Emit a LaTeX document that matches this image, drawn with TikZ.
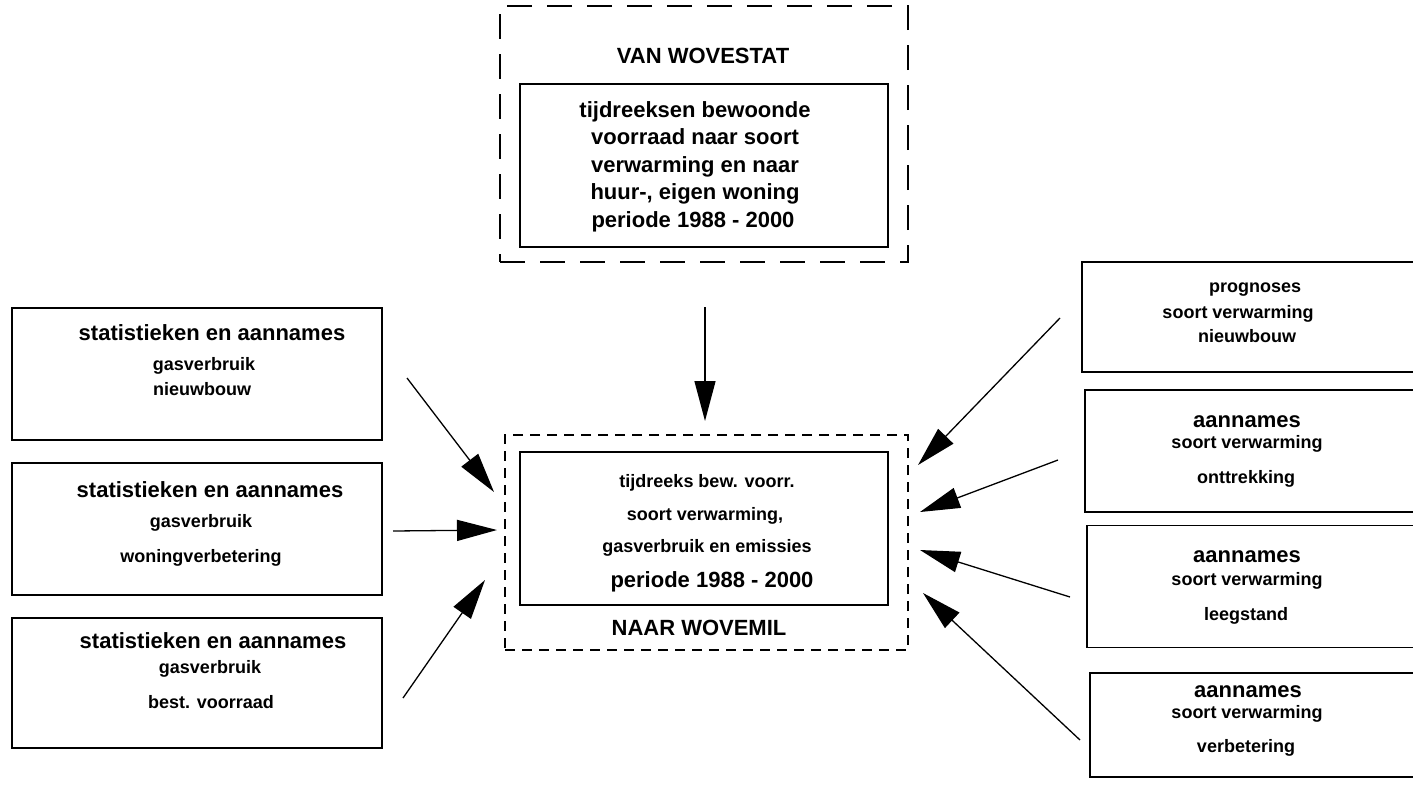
\documentclass[tikz,border=0pt]{standalone}
\usepackage{fontspec}
\setmainfont{Liberation Sans}
\usetikzlibrary{arrows.meta}
\begin{document}
\begin{tikzpicture}[x=1pt,y=-1pt,
  big/.style={font=\fontsize{22}{26}\selectfont\bfseries, anchor=base, inner sep=0pt},
  small/.style={font=\fontsize{18}{22}\selectfont\bfseries, anchor=base, inner sep=0pt},
  frame/.style={draw, line width=1.6pt, inner sep=0pt},
  outerlong/.style={draw, line width=1.5pt, dash pattern=on 25pt off 15pt, inner sep=0pt},
  outershort/.style={draw, line width=1.4pt, dash pattern=on 10pt off 7pt, inner sep=0pt},
  feed/.style={line width=1.3pt, -{Triangle[length=40pt,width=21pt]}}]
\useasboundingbox (0,0) rectangle (1413,796);
\clip (0,0) rectangle (1413,796);
\fill[white] (0,0) rectangle (1413,796);

% source frame on top
\path (500,6) coordinate (vtl) (908,262) coordinate (vbr);
\node[outerlong, fit/.style={}, minimum width=408pt, minimum height=256pt] (van) at (704,134) {};
\node[frame, minimum width=368pt, minimum height=163pt] (vanbox) at (704,165.5) {};
\node[big] (vant) at (703,63) {VAN WOVESTAT};
\node[big] (v1) at (695,117) {tijdreeksen bewoonde};
\node[big] (v2) at (695,144.5) {voorraad naar soort};
\node[big] (v3) at (695,172) {verwarming en naar};
\node[big] (v4) at (695,199.5) {huur-, eigen woning};
\node[big] (v5) at (693,227) {periode 1988 - 2000};

% target frame in the middle
\node[outershort, minimum width=403pt, minimum height=215pt] (naar) at (706.5,542.5) {};
\node[frame, minimum width=368pt, minimum height=153pt] (naarbox) at (704,528.5) {};
\node[small] (n1) at (707,487) {tijdreeks bew. voorr.};
\node[small] (n2) at (705,520) {soort verwarming,};
\node[small] (n3) at (707,552) {gasverbruik en emissies};
\node[big] (n4) at (712,587) {periode 1988 - 2000};
\node[big] (nt) at (699,635) {NAAR WOVEMIL};

% left inputs
\node[frame, minimum width=370pt, minimum height=132pt] (l1) at (197,374) {};
\node[big] (l1a) at (212,340) {statistieken en aannames};
\node[small] (l1b) at (204,370) {gasverbruik};
\node[small] (l1c) at (202,395) {nieuwbouw};

\node[frame, minimum width=370pt, minimum height=132pt] (l2) at (197,529) {};
\node[big] (l2a) at (210,497) {statistieken en aannames};
\node[small] (l2b) at (201,527) {gasverbruik};
\node[small] (l2c) at (201,562) {woningverbetering};

\node[frame, minimum width=370pt, minimum height=130pt] (l3) at (197,683) {};
\node[big] (l3a) at (213,648) {statistieken en aannames};
\node[small] (l3b) at (210,673) {gasverbruik};
\node[small] (l3c) at (211,708) {best. voorraad};

% right inputs (running past the right edge)
\node[frame, minimum width=360pt, minimum height=110pt] (r1) at (1262,317) {};
\node[small] (r1a) at (1255,292) {prognoses};
\node[small] (r1b) at (1238,318) {soort verwarming};
\node[small] (r1c) at (1247,342) {nieuwbouw};

\node[frame, minimum width=360pt, minimum height=122pt] (r2) at (1265,451) {};
\node[big] (r2a) at (1247,427) {aannames};
\node[small] (r2b) at (1247,448) {soort verwarming};
\node[small] (r2c) at (1246,483) {onttrekking};

\node[frame, minimum width=360pt, minimum height=122pt] (r3) at (1267,586.5) {};
\node[big] (r3a) at (1247,562) {aannames};
\node[small] (r3b) at (1247,585) {soort verwarming};
\node[small] (r3c) at (1246,620) {leegstand};

\node[frame, minimum width=360pt, minimum height=104pt] (r4) at (1270,725) {};
\node[big] (r4a) at (1248,697) {aannames};
\node[small] (r4b) at (1247,718) {soort verwarming};
\node[small] (r4c) at (1246,752) {verbetering};

% arrow ends
\coordinate (a0s) at (705,307);   \coordinate (a0e) at (705,421);
\coordinate (a1s) at (407,378);   \coordinate (a1e) at (494,492);
\coordinate (a2s) at (393,531);   \coordinate (a2e) at (497,530);
\coordinate (a3s) at (403,698);   \coordinate (a3e) at (485,580);
\coordinate (a4s) at (1060,318);  \coordinate (a4e) at (918,465);
\coordinate (a5s) at (1058,460);  \coordinate (a5e) at (920,512);
\coordinate (a6s) at (1070,597);  \coordinate (a6e) at (920,550);
\coordinate (a7s) at (1080,740);  \coordinate (a7e) at (923,593);

\draw[feed] (a0s) -- (a0e);
\draw[feed] (a1s) -- (a1e);
\draw[feed] (a2s) -- (a2e);
\draw[feed] (a3s) -- (a3e);
\draw[feed] (a4s) -- (a4e);
\draw[feed] (a5s) -- (a5e);
\draw[feed] (a6s) -- (a6e);
\draw[feed] (a7s) -- (a7e);
\end{tikzpicture}
\end{document}
